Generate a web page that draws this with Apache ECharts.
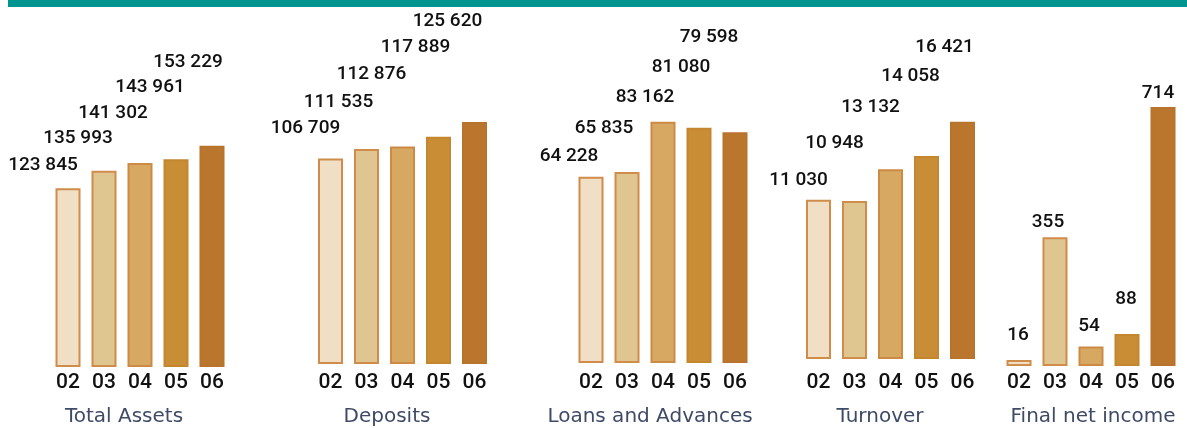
<!DOCTYPE html>
<html>
<head>
<meta charset="utf-8">
<script src="https://cdn.jsdelivr.net/npm/echarts@6/dist/echarts.min.js"></script>
<style>
html,body{margin:0;padding:0;background:#fff;}
#chart{width:1187px;height:428px;}
</style>
</head>
<body>
<div id="chart"></div>
<script>
var years = ['02', '03', '04', '05', '06'];

var totalAssets = [123845, 135993, 141302, 143961, 153229];
var deposits = [106709, 111535, 112876, 117889, 125620];
var loans = [64228, 65835, 83162, 81080, 79598];
var turnover = [11030, 10948, 13132, 14058, 16421];
var netIncome = [16, 355, 54, 88, 714];

var titles = ['Total Assets', 'Deposits', 'Loans and Advances', 'Turnover', 'Final net income'];

// colours of the five years, light -> dark
var fills = ['#f0dfc5', '#dfc590', '#d6a862', '#c98d35', '#bb762e'];
var borders = ['#cf8c4a', '#cf8c4a', '#cc8a45', '#c4862f', '#b8732c'];

// layout of every small chart: left, bottom, height, y max, label margin, title x
var panels = [
    {data: totalAssets, left: 50, bottom: 61, height: 231, max: 160000, margin: 5.5, tx: 119},
    {data: deposits, left: 312.5, bottom: 64, height: 250.5, max: 130000, margin: 8.5, tx: 382},
    {data: loans, left: 573, bottom: 65, height: 261, max: 90000, margin: 9.5, tx: 645},
    {data: turnover, left: 800.5, bottom: 69, height: 245.5, max: 17000, margin: 13.5, tx: 875},
    {data: netIncome, left: 1001, bottom: 62, height: 272, max: 750, margin: 6.5, tx: 1088}
];

// the value labels sit in a staircase, left of the bars
var labelOffsets = [
    [[-25, -13], [-26, -22], [-27, -40], [-26, -62], [-24, -74]],
    [[-25, -20], [-28, -37], [-31, -62], [-23, -80], [-27, -91]],
    [[-22, -10], [-23, -34], [-18, -15], [-18, -51], [-26, -85]],
    [[-20, -9], [-20, -48], [-20, -52], [-16, -70], [-18, -65]],
    [[-1, -15], [-7, -5], [-2, -10], [-1, -25], [-5, -4]]
];

var numFont = "Roboto, 'Liberation Sans', Arial, sans-serif";

function fmt(v) {
    return String(v).replace(/\B(?=(\d{3})+(?!\d))/g, ' ');
}

var myChart = echarts.init(document.getElementById('chart'), null, {renderer: 'canvas'});

var grids = [], xAxes = [], yAxes = [], series = [], titleList = [];

panels.forEach(function (p, i) {
    grids.push({left: p.left, width: 180, bottom: p.bottom, height: p.height});
    xAxes.push({
        type: 'category',
        gridIndex: i,
        data: years,
        axisLine: {show: false},
        axisTick: {show: false},
        axisLabel: {
            color: '#111',
            fontFamily: numFont,
            fontWeight: 500,
            fontSize: 21,
            lineHeight: 21,
            margin: p.margin
        }
    });
    yAxes.push({
        type: 'value',
        gridIndex: i,
        min: 0,
        max: p.max,
        show: false,
        splitLine: {show: false}
    });
    series.push({
        type: 'bar',
        xAxisIndex: i,
        yAxisIndex: i,
        barWidth: 25,
        barMinHeight: 6,
        data: p.data.map(function (v, j) {
            return {
                value: v,
                itemStyle: {color: fills[j], borderColor: borders[j], borderWidth: 2},
                label: {offset: labelOffsets[i][j]}
            };
        }),
        label: {
            show: true,
            position: 'top',
            distance: 0,
            color: '#111',
            fontFamily: numFont,
            fontWeight: 500,
            fontSize: 19,
            lineHeight: 20,
            formatter: function (d) { return fmt(d.value); }
        },
        animation: false
    });
    titleList.push({
        text: titles[i],
        left: p.tx,
        top: 402,
        textAlign: 'center',
        textStyle: {
            color: '#3e4a66',
            fontFamily: "'DejaVu Sans', Verdana, sans-serif",
            fontSize: 20,
            fontWeight: 'normal'
        }
    });
});

var option = {
    backgroundColor: '#fff',
    title: titleList,
    grid: grids,
    xAxis: xAxes,
    yAxis: yAxes,
    series: series,
    graphic: [
        {type: 'rect', left: 8, top: 0, shape: {width: 1179, height: 7}, style: {fill: '#00968f'}}
    ]
};

myChart.setOption(option);
</script>
</body>
</html>
